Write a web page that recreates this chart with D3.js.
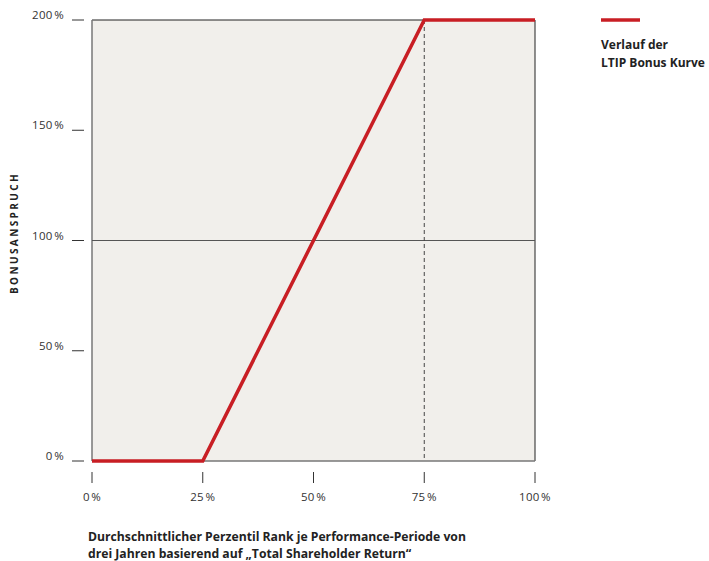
<!DOCTYPE html>
<html>
<head>
<meta charset="utf-8">
<script src="https://cdn.jsdelivr.net/npm/d3@7"></script>
<style>
  body { margin: 0; background: #fff; }
  svg { font-family: "Open Sans", "Noto Sans", sans-serif; }
</style>
</head>
<body>
<svg id="chart" width="709" height="561"></svg>
<script>
// curve data: percentile rank -> bonus claim
const rankValues = [0, 25, 75, 100];
const bonusValues = [0, 0, 200, 200];
const xTicks = [0, 25, 50, 75, 100];
const yTicks = [0, 50, 100, 150, 200];
const legendLines = ["Verlauf der", "LTIP Bonus Kurve"];
const xTitleLines = [
    "Durchschnittlicher Perzentil Rank je Performance-Periode von",
    "drei Jahren basierend auf \u201eTotal Shareholder Return\u201c"
];

const red = "#c81e24";
const svg = d3.select("#chart");

const margin = { left: 92, top: 20, right: 535, bottom: 461 };
const x = d3.scaleLinear().domain([0, 100]).range([margin.left, margin.right]);
const y = d3.scaleLinear().domain([0, 200]).range([margin.bottom, margin.top]);

// plot background
svg.append("rect")
    .attr("x", x(0)).attr("y", y(200))
    .attr("width", x(100) - x(0)).attr("height", y(0) - y(200))
    .attr("fill", "#f1efeb");

// borders
svg.append("line").attr("x1", x(0)).attr("x2", x(100)).attr("y1", y(200)).attr("y2", y(200))
    .attr("stroke", "#222").attr("stroke-width", 1);
svg.append("line").attr("x1", x(100)).attr("x2", x(100)).attr("y1", y(200)).attr("y2", y(0))
    .attr("stroke", "#222").attr("stroke-width", 1);
svg.append("line").attr("x1", x(0)).attr("x2", x(0)).attr("y1", y(200)).attr("y2", y(0))
    .attr("stroke", "#777").attr("stroke-width", 1.5);
svg.append("line").attr("x1", x(0)).attr("x2", x(100)).attr("y1", y(0)).attr("y2", y(0))
    .attr("stroke", "#777").attr("stroke-width", 1.5);

// 100% reference line
svg.append("line").attr("x1", x(0)).attr("x2", x(100)).attr("y1", y(100)).attr("y2", y(100))
    .attr("stroke", "#555").attr("stroke-width", 1.2);

// dashed line at 75%
svg.append("line").attr("x1", x(75)).attr("x2", x(75)).attr("y1", y(200)).attr("y2", y(0))
    .attr("stroke", "#444").attr("stroke-width", 1).attr("stroke-dasharray", "4,3");

// y ticks
const yg = svg.append("g");
yTicks.forEach(t => {
    yg.append("line").attr("x1", 72).attr("x2", 84).attr("y1", y(t)).attr("y2", y(t))
        .attr("stroke", "#333").attr("stroke-width", 1);
    yg.append("text").attr("x", 64).attr("y", y(t) - 1)
        .attr("text-anchor", "end").attr("font-size", 11.5).attr("fill", "#333")
        .attr("letter-spacing", 0.3)
        .text(t + "\u200a%");
});

// x ticks
const xg = svg.append("g");
xTicks.forEach(t => {
    xg.append("line").attr("x1", x(t)).attr("x2", x(t)).attr("y1", 472).attr("y2", 483)
        .attr("stroke", "#333").attr("stroke-width", 1);
    xg.append("text").attr("x", x(t)).attr("y", 501)
        .attr("text-anchor", "middle").attr("font-size", 11.5).attr("fill", "#333")
        .attr("letter-spacing", 0.3)
        .text(t + "\u200a%");
});

// bonus curve
const line = d3.line().x((d, i) => x(rankValues[i])).y(d => y(d));
svg.append("path")
    .datum(bonusValues)
    .attr("d", line)
    .attr("fill", "none")
    .attr("stroke", red)
    .attr("stroke-width", 3.5)
    .attr("stroke-linejoin", "miter");

// y axis title
svg.append("text")
    .attr("transform", "translate(18,233) rotate(-90)")
    .attr("text-anchor", "middle")
    .attr("font-size", 10).attr("font-weight", "bold").attr("fill", "#222")
    .attr("letter-spacing", 2.4)
    .text("BONUSANSPRUCH");

// x axis title
xTitleLines.forEach((s, i) => {
    svg.append("text").attr("x", 88).attr("y", 541 + i * 17)
        .attr("font-size", 12.2).attr("font-weight", "bold").attr("fill", "#222")
        .text(s);
});

// legend
svg.append("line").attr("x1", 601).attr("x2", 640).attr("y1", 20).attr("y2", 20)
    .attr("stroke", red).attr("stroke-width", 3.5);
legendLines.forEach((s, i) => {
    svg.append("text").attr("x", 601).attr("y", 49 + i * 18)
        .attr("font-size", 12).attr("font-weight", "bold").attr("fill", "#222")
        .text(s);
});
</script>
</body>
</html>
